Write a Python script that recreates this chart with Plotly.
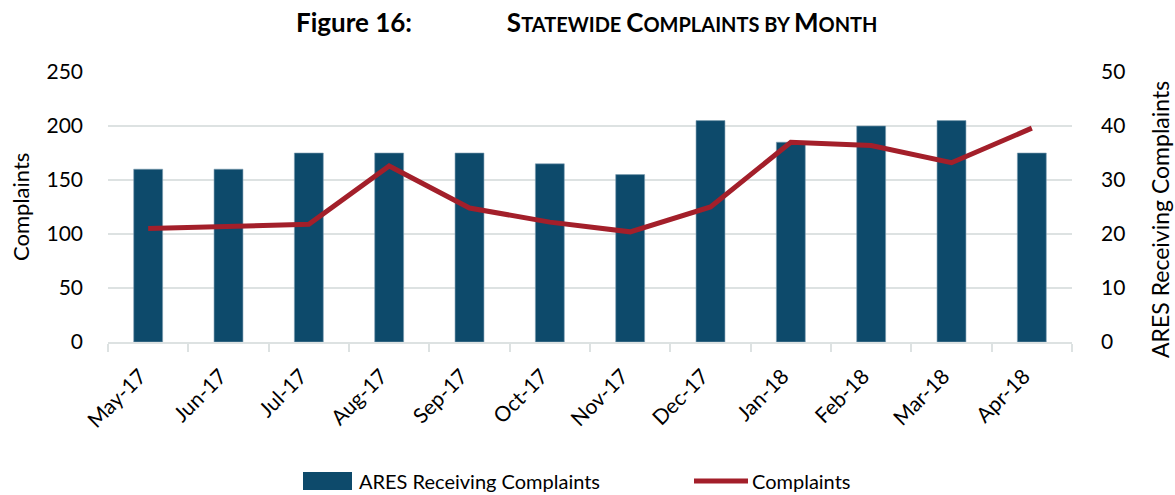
import plotly.graph_objects as go

months = ["May-17", "Jun-17", "Jul-17", "Aug-17", "Sep-17", "Oct-17",
          "Nov-17", "Dec-17", "Jan-18", "Feb-18", "Mar-18", "Apr-18"]
ares_receiving = [32, 32, 35, 35, 35, 33, 31, 41, 37, 40, 41, 35]
complaints = [105, 107, 109, 163, 124, 111, 102, 125, 185, 182, 166, 198]
series_names = ["ARES Receiving Complaints", "Complaints"]
axis_titles = ["Complaints", "ARES Receiving Complaints"]

FONT = "Lato"
BAR_COLOR = "#0d4a6b"
LINE_COLOR = "#a31f2a"
GRID = "#dde2e2"

fig = go.Figure()
# bars on the right-hand axis (drawn underneath), line on the overlaying left axis (on top)
fig.add_trace(go.Bar(
    x=months, y=ares_receiving, name=series_names[0],
    marker=dict(color=BAR_COLOR, line=dict(color="#7fa0b4", width=0.6)),
    width=0.36, yaxis="y", showlegend=False))
fig.add_trace(go.Scatter(
    x=months, y=complaints, name=series_names[1], mode="lines",
    line=dict(color=LINE_COLOR, width=5), yaxis="y2", showlegend=False))

def sc(big, small):
    return f"<span style='font-size:26px'>{big}</span><span style='font-size:20px'>{small}</span>"

title_text = ("<span style='font-size:26px'>Figure 16:</span>" + "&nbsp;" * 15 +
              sc("S", "TATEWIDE ") + sc("C", "OMPLAINTS BY ") + sc("M", "ONTH"))

PL, PT, PW, PH = 108, 72, 964, 270

def px(x):
    return (x - PL) / PW

def py(y):
    return (PT + PH - y) / PH

fig.update_layout(
    width=1175, height=495,
    paper_bgcolor="white", plot_bgcolor="white",
    font=dict(family=FONT, size=20, color="#000000"),
    margin=dict(l=PL, r=1175 - PL - PW, t=PT, b=495 - PT - PH, autoexpand=False),
    showlegend=False,
    xaxis=dict(tickangle=-45, showgrid=False, ticks="outside", tickson="boundaries",
               ticklen=8, tickcolor=GRID, tickwidth=1.5, showline=True, linecolor=GRID,
               linewidth=1.5, tickfont=dict(size=21), automargin=False,
               ticklabelstandoff=12, ticklabelshift=-8),
    yaxis=dict(range=[0, 50], dtick=10, side="right",
               showgrid=True, gridcolor=GRID, gridwidth=1.5, zeroline=False,
               showline=False, tickfont=dict(size=21), ticklabelstandoff=28,
               automargin=False),
    yaxis2=dict(range=[0, 250], dtick=50, side="left", overlaying="y",
                showgrid=False, zeroline=False, tickfont=dict(size=21),
                ticklabelstandoff=24, automargin=False),
)

# axis titles
fig.add_annotation(text=axis_titles[0], xref="paper", yref="paper", x=px(20), y=py(207),
                   xanchor="center", yanchor="middle", textangle=-90, showarrow=False,
                   font=dict(family=FONT, size=22, color="#000"))
fig.add_annotation(text=axis_titles[1], xref="paper", yref="paper", x=px(1160), y=py(220),
                   xanchor="center", yanchor="middle", textangle=-90, showarrow=False,
                   font=dict(family=FONT, size=23, color="#000"))

# title
fig.add_annotation(text="<b>" + title_text + "</b>", xref="paper", yref="paper",
                   x=px(587), y=py(22), xanchor="center",
                   yanchor="middle", showarrow=False,
                   font=dict(family=FONT, size=26, color="#000"))

# custom legend
fig.add_shape(type="rect", xref="paper", yref="paper",
              x0=px(303), x1=px(352), y0=py(472), y1=py(490),
              fillcolor=BAR_COLOR, line=dict(width=0))
fig.add_annotation(text=series_names[0], xref="paper", yref="paper",
                   x=px(357), y=py(481), xanchor="left",
                   yanchor="middle", showarrow=False, font=dict(size=20))
fig.add_shape(type="line", xref="paper", yref="paper",
              x0=px(694), x1=px(748), y0=py(481), y1=py(481),
              line=dict(color=LINE_COLOR, width=5))
fig.add_annotation(text=series_names[1], xref="paper", yref="paper",
                   x=px(750), y=py(481), xanchor="left",
                   yanchor="middle", showarrow=False, font=dict(size=20))

fig.write_html("out.html", config={"displayModeBar": False},
               post_script="document.body.style.margin='0px';document.body.style.overflow='hidden';")
